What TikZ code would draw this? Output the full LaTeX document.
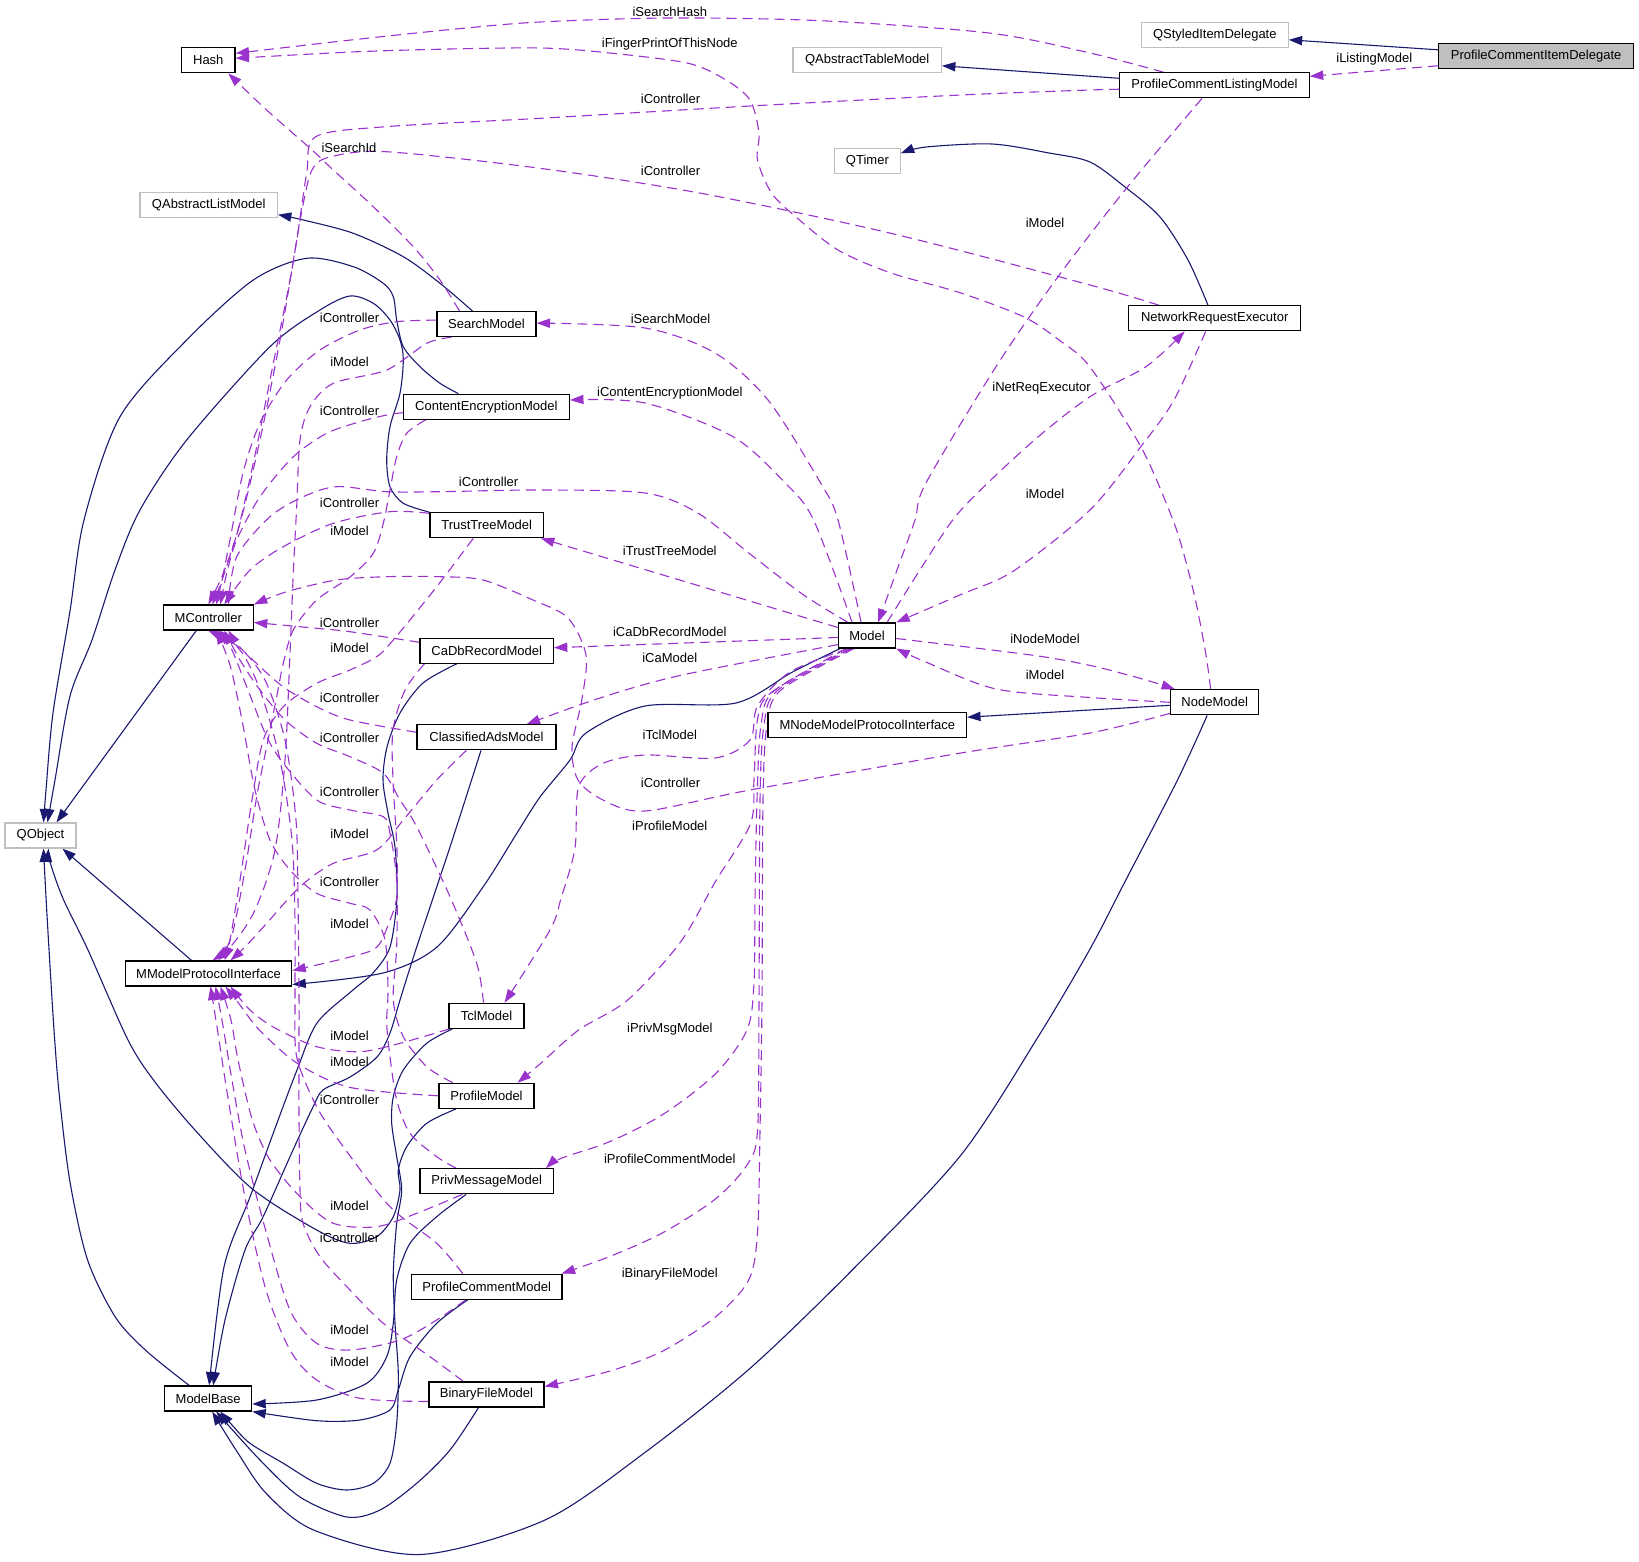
\documentclass[tikz,border=0pt]{standalone}
\usepackage{fontspec}
\usetikzlibrary{arrows.meta,calc}
\newfontfamily\arialf{Liberation Sans}
\definecolor{navyc}{HTML}{191970}
\definecolor{orchidc}{HTML}{9A32CD}
\definecolor{greyc}{HTML}{BFBFBF}
\pgfdeclarelayer{bg}
\pgfsetlayers{bg,main}
\tikzset{
  box/.style={draw=black, line width=0.6pt, fill=white, minimum height=12.5pt, inner sep=0pt, font=\arialf\fontsize{6.5pt}{7.8pt}\selectfont, text=black},
  ext/.style={box, draw=greyc},
  lbl/.style={inner sep=0pt, font=\arialf\fontsize{6.5pt}{7.8pt}\selectfont, text=black},
  inh/.style={draw=navyc, line width=0.55pt, -{Triangle[length=6.7pt,width=4.6pt]}},
  dep/.style={draw=orchidc, line width=0.55pt, dash pattern=on 5pt off 3pt, -{Triangle[length=6.7pt,width=4.6pt]}},
}
\begin{document}
\begin{tikzpicture}[x=0.5pt,y=-0.5pt]
\useasboundingbox (0,0) rectangle (1639,1562);
\begin{pgfonlayer}{bg}
\fill[white] (0,0) rectangle (1639,1562);
\end{pgfonlayer}
% ---------------- nodes ----------------
\node[box,minimum width=26.75pt] (Hash) at (208.3,60.3) {Hash};
\node[ext,minimum width=73.35pt] (QSID) at (1214.8,34.8) {QStyledItemDelegate};
\node[box,fill=greyc,minimum width=97.7pt] (PCID) at (1536.1,55.8) {ProfileCommentItemDelegate};
\node[box,minimum width=94.7pt] (PCLM) at (1214.5,85.3) {ProfileCommentListingModel};
\node[ext,minimum width=74.15pt] (QATM) at (867.2,59.8) {QAbstractTableModel};
\node[ext,minimum width=32.8pt] (QTimer) at (867.4,161.3) {QTimer};
\node[box,minimum width=86.15pt] (NRE) at (1214.7,318.3) {NetworkRequestExecutor};
\node[ext,minimum width=68.65pt] (QALM) at (208.7,205.2) {QAbstractListModel};
\node[box,minimum width=49.5pt] (SM) at (486.5,324.1) {SearchModel};
\node[box,minimum width=83.05pt] (CEM) at (486.4,406.7) {ContentEncryptionModel};
\node[box,minimum width=56.65pt] (TTM) at (486.7,525.3) {TrustTreeModel};
\node[box,minimum width=45pt] (MC) at (208.3,617.5) {MController};
\node[box,minimum width=66.65pt] (CaDb) at (486.7,650.7) {CaDbRecordModel};
\node[box,minimum width=69.5pt] (CAM) at (486.5,737.3) {ClassifiedAdsModel};
\node[box,minimum width=28.6pt] (Model) at (867.1,635.5) {Model};
\node[box,minimum width=44.15pt] (NM) at (1214.7,702.3) {NodeModel};
\node[box,minimum width=99.25pt] (MNMPI) at (867.3,725.2) {MNodeModelProtocolInterface};
\node[ext,minimum width=35.5pt] (QObject) at (40.5,835.5) {QObject};
\node[box,minimum width=83.25pt] (MMPI) at (208.5,973.5) {MModelProtocolInterface};
\node[box,minimum width=37.5pt] (Tcl) at (486.5,1015.8) {TclModel};
\node[box,minimum width=47.5pt] (PM) at (486.5,1095.8) {ProfileModel};
\node[box,minimum width=66.65pt] (PMM) at (486.7,1181.3) {PrivMessageModel};
\node[box,minimum width=75.35pt] (PCM) at (486.7,1286.7) {ProfileCommentModel};
\node[box,minimum width=57.5pt] (BFM) at (486.5,1394.5) {BinaryFileModel};
\node[box,minimum width=43.5pt] (MB) at (208.2,1398.5) {ModelBase};
% ---------------- labels ----------------
\node[lbl] (l1) at (1374.3,59.3) {iListingModel};
\node[lbl] (l2) at (669.8,11.7) {iSearchHash};
\node[lbl] (l3) at (669.8,44.3) {iFingerPrintOfThisNode};
\node[lbl] (l4) at (670.5,99.3) {iController};
\node[lbl] (l5) at (670.5,170.7) {iController};
\node[lbl] (l6) at (349,148.3) {iSearchId};
\node[lbl] (l7) at (1045,222.7) {iModel};
\node[lbl] (l8) at (670.5,319.3) {iSearchModel};
\node[lbl] (l9) at (669.8,392.7) {iContentEncryptionModel};
\node[lbl] (l10) at (1041.6,388.3) {iNetReqExecutor};
\node[lbl] (l11) at (1045,494) {iModel};
\node[lbl] (l12) at (488.6,482.3) {iController};
\node[lbl] (l13) at (669.8,550.5) {iTrustTreeModel};
\node[lbl] (l14) at (669.8,632) {iCaDbRecordModel};
\node[lbl] (l15) at (669.8,658) {iCaModel};
\node[lbl] (l16) at (1045,639) {iNodeModel};
\node[lbl] (l17) at (1045,674.5) {iModel};
\node[lbl] (l18) at (669.8,734.7) {iTclModel};
\node[lbl] (l19) at (670.5,783) {iController};
\node[lbl] (l20) at (669.8,826) {iProfileModel};
\node[lbl] (l21) at (669.8,1029.6) {iPrivMsgModel};
\node[lbl] (l22) at (669.8,1159) {iProfileCommentModel};
\node[lbl] (l23) at (669.8,1274) {iBinaryFileModel};
\node[lbl] (c1) at (349.5,318.3) {iController};
\node[lbl] (m1) at (349.5,362.3) {iModel};
\node[lbl] (c2) at (349.5,410.7) {iController};
\node[lbl] (c3) at (349.5,503.3) {iController};
\node[lbl] (m2) at (349.5,531) {iModel};
\node[lbl] (c4) at (349.5,623.3) {iController};
\node[lbl] (m3) at (349.5,648.3) {iModel};
\node[lbl] (c5) at (349.5,698.3) {iController};
\node[lbl] (c6) at (349.5,738.3) {iController};
\node[lbl] (c7) at (349.5,791.7) {iController};
\node[lbl] (m4) at (349.5,834) {iModel};
\node[lbl] (c8) at (349.5,882.3) {iController};
\node[lbl] (m5) at (349.5,924) {iModel};
\node[lbl] (m6) at (349.5,1036) {iModel};
\node[lbl] (m7) at (349.5,1062) {iModel};
\node[lbl] (c9) at (349.5,1100) {iController};
\node[lbl] (m8) at (349.5,1206) {iModel};
\node[lbl] (c10) at (349.5,1238.3) {iController};
\node[lbl] (m9) at (349.5,1330) {iModel};
\node[lbl] (m10) at (349.5,1361.7) {iModel};
% ---------------- edges ----------------
\begin{pgfonlayer}{bg}
% inheritance
\draw[inh] ($(PCID.west)+(0,-6)$) -- ($(QSID.east)+(0,5)$);
\draw[inh] ($(PCLM.west)+(0,-7)$) -- ($(QATM.east)+(0,6)$);
\draw[inh] plot[smooth] coordinates {($(NRE.north)+(-6.7,0)$) (1188,260) (1160,217) (1125,187) (1090,162) (1049,153) (992,144) (926,147) ($(QTimer.east)+(0,-8)$)};
\draw[inh] plot[smooth] coordinates {($(SM.north)+(-14,0)$) (440,283.3) (403.3,256.7) (353.3,233.3) (303.3,220) ($(QALM.east)+(0,9.5)$)};
\draw[inh] plot[smooth] coordinates {($(CEM.north)+(-28,0)$) (440,383.3) (420,366.7) (403.3,346.7) (396.7,320) (393.3,296.7) (383.3,283.3) (353.3,266.7) (306.7,258.3) (253.3,280) (186.7,340) (120,416.7) (84,520) (70,611) (53,713) (46,790) ($(QObject.north)+(3,0)$)};
\draw[inh] plot[smooth] coordinates {(TTM.north west) (403.3,503.3) (390,486.7) (386.7,460) (390,426.7) (400,393.3) (403.3,360) (400,340) (390,320) (373.3,303.3) (350,296) (320,310) (270,346.7) (186.7,440) (140,510) (115,570) (92,640) (70,696) (55,780) ($(QObject.north)+(7,0)$)};
\draw[inh] ($(MC.south)+(-12,0)$) -- ($(QObject.north)+(16,0)$);
\draw[inh] ($(MMPI.north)+(-17,0)$) -- ($(QObject.south)+(22,0)$);
\draw[inh] plot[smooth] coordinates {($(MB.north)+(-19,0)$) (147,1351.5) (115.7,1317.6) (87.6,1260) (70,1182) (59.6,1098) (54,1030) (47,915) ($(QObject.south)+(3,0)$)};
\draw[inh] plot[smooth] coordinates {($(PM.south west)+(17.7,0)$) (426.7,1123.3) (406.7,1146.7) (398.3,1170) (400,1190) (393.3,1216.7) (376.7,1236.7) (350,1243.3) (316.7,1230) (252.4,1189) (196.3,1131.5) (155,1082) (128,1040) (88,950) (63,898.5) (50,862) ($(QObject.south)+(8,0)$)};
\draw[inh] plot[smooth] coordinates {($(Model.south west)+(2,0)$) (792.5,672) (736,703) (645,706) (586,733) (570,760) (540,797) (517,833) (483,887) (437,947) (383,973) ($(MMPI.east)+(0,11)$)};
\draw[inh] ($(NM.west)+(0,3)$) -- ($(MNMPI.east)+(0,-8)$);
\draw[inh] plot[smooth] coordinates {($(NM.south)+(-7.5,0)$) (1177.5,780) (1125,881.6) (1090,949) (1038,1037) (961,1155) (855.7,1266.5) (750.4,1368) (645,1452.4) (545,1520) (420.6,1554.5) (315.5,1530.8) (266.4,1493.6) (236,1450) ($(MB.south)+(4,0)$)};
\draw[inh] plot[smooth] coordinates {($(CaDb.south)+(-30,0)$) (423,683) (400,713) (387,747) (383,780) (388,813) (395,847) (397,897) (390,947) (373,973) (353,990) (317,1023) (297,1070) (277,1123) (250,1197) (224,1267) ($(MB.north)+(1,0)$)};
\draw[inh] plot[smooth] coordinates {($(CAM.south)+(-5.5,0)$) (450,847) (416.7,947) (400,1000) (390,1033) (377,1057) (350,1077) (323,1090) (313,1107) (293,1150) (263,1217) (245,1250) (225,1320) ($(MB.north)+(5,0)$)};
\draw[inh] plot[smooth] coordinates {($(Tcl.south west)+(4,0)$) (426.7,1043.3) (403.3,1070) (393.3,1096.7) (391.7,1123.3) (396.7,1156.7) (401.7,1190) (396.7,1223.3) (393.3,1273.3) (395,1323.3) (398.3,1373.3) (396.7,1423.3) (390,1463.3) (373.3,1483.3) (346.7,1490) (316.7,1483.3) (283.3,1463.3) (250,1443.3) (232,1425) ($(MB.south)+(12,0)$)};
\draw[inh] plot[smooth] coordinates {($(PMM.south west)+(46.7,0)$) (436.7,1216.7) (410,1243.3) (396.7,1280) (393.3,1323.3) (386.7,1356.7) (366.7,1383.3) (316.7,1400) ($(MB.east)+(0,5.5)$)};
\draw[inh] plot[smooth] coordinates {($(PCM.south west)+(57,0)$) (436.7,1323.3) (410,1356.7) (398.3,1390) (390,1410) (360,1420) (316.7,1420.7) (MB.south east)};
\draw[inh] plot[smooth] coordinates {($(BFM.south)+(-8,0)$) (450,1450) (416.7,1483.3) (380,1510) (347,1517) (300,1497) (260,1460) ($(MB.south)+(8,0)$)};
% usage
\draw[dep] ($(PCID.west)+(0,10)$) -- ($(PCLM.east)+(0,-9)$);
\draw[dep] plot[smooth] coordinates {($(PCLM.north)+(-51,0)$) (1090,53) (989,33) (820.6,20.7) (670,18) (540,22) (456,29) (351,40) ($(Hash.east)+(0,-7)$)};
\draw[dep] plot[smooth] coordinates {($(NM.north)+(-4,0)$) (1205.5,652) (1195,598) (1181,544) (1169,510) (1141,447) (1090,367) (1059,340) (1024,317) (961,293) (891,273) (838,250) (796,217) (771.5,193) (757.5,160) (759,133) (750,100) (726,80) (687,63) (600,52) (540,48) (450,49) (351,52) ($(Hash.east)+(0,-2)$)};
\draw[dep] plot[smooth] coordinates {($(SM.north)+(-27,0)$) (440,280) (413.3,246.7) (373.3,206.7) (333.3,170) (312,150) (266.6,110) ($(Hash.south)+(20,0)$)};
\draw[dep] plot[smooth] coordinates {($(PCLM.west)+(0,4)$) (1090,90) (961,95) (750.4,106) (540,118.3) (385.8,126.7) (315.7,136.7) (306.7,173.3) (296.7,240) (280,340) (260,440) (240,523.3) (223.3,573.3) (MC.north)};
\draw[dep] plot[smooth] coordinates {($(NRE.north west)+(31,0)$) (1090,285) (890.8,233.3) (701,193.3) (540,168.3) (385.8,151.7) (330,157) (312,170) (302,210) (290,280) (272,370) (255,455) (238,530) (222,580) ($(MC.north)+(4,0)$)};
\draw[dep] plot[smooth] coordinates {($(SM.west)+(0,-4)$) (396.7,321.7) (360,330) (320,350) (286.7,380) (260,423) (243,473) (230,540) (222,580) ($(MC.north)+(8,0)$)};
\draw[dep] plot[smooth] coordinates {($(SM.south west)+(15,0)$) (426.7,343.3) (386.7,370) (333.3,383.3) (310,406.7) (300,440) (296.7,506.7) (293.3,573) (290,653) (285,760) (275,850) (255,910) (232,945) ($(MMPI.north)+(4,0)$)};
\draw[dep] plot[smooth] coordinates {($(CEM.west)+(0,6)$) (386.7,415) (360,421.7) (326.7,433.3) (293.3,456.7) (260,496.7) (236.7,540) (226.7,573.3) ($(MC.north)+(12,0)$)};
\draw[dep] plot[smooth] coordinates {($(CEM.south west)+(23,0)$) (406.7,433.3) (396.7,456.7) (390,490) (383.3,523.3) (373.3,553.3) (350,577) (316.7,600) (293.3,630) (283.3,663.3) (276.7,696.7) (270,730) (263.3,763.3) (256.7,796.7) (245,870) (232,935) ($(MMPI.north)+(10,0)$)};
\draw[dep] plot[smooth] coordinates {($(TTM.west)+(0,-12)$) (390,511.7) (333.3,523.3) (283.3,546.7) (250,570) ($(MC.north)+(16,0)$)};
\draw[dep] plot[smooth] coordinates {($(TTM.south)+(-13.4,0)$) (436.7,586.7) (393.3,640) (376.7,656.7) (350,670) (316.7,683.3) (283.3,706.7) (263.3,740) (252,800) (240,880) (230,940) ($(MMPI.north)+(16,0)$)};
\draw[dep] plot[smooth] coordinates {($(CaDb.west)+(0,-8.4)$) (350,631.7) (316.7,628.3) ($(MC.east)+(0,5)$)};
\draw[dep] plot[smooth] coordinates {($(CaDb.south west)+(5,0)$) (405,690) (393,730) (393,780) (397,850) (396.7,897) (390,920) (377,947) (350,957) ($(MMPI.east)+(0,-3)$)};
\draw[dep] plot[smooth] coordinates {($(CAM.west)+(0,-5)$) (350,720) (316.7,706.7) (283,686.7) (255,662) (238,645) ($(MC.south)+(20,0)$)};
\draw[dep] plot[smooth] coordinates {($(CAM.south west)+(50,0)$) (436.7,780) (403.3,820) (376.7,850) (333.3,863.3) (300,886.7) (266.7,923.3) (246,946) ($(MMPI.north)+(22,0)$)};
\draw[dep] plot[smooth] coordinates {($(Tcl.north)+(-3,0)$) (476.7,963.3) (450,896.7) (416.7,826.7) (400,800) (383.3,773.3) (350,756.7) (316.7,743.3) (285,720) (260,690) (240,660) ($(MC.south)+(16,0)$)};
\draw[dep] plot[smooth] coordinates {($(PM.north west)+(14.3,0)$) (426.7,1066.7) (403.3,1036.7) (393.3,1000) (396.7,946.7) (396.7,880) (390,833.3) (383.3,816.7) (350,810) (316.7,800) (283.3,763.3) (266.7,736.7) (248,690) (232,650) ($(MC.south)+(12,0)$)};
\draw[dep] plot[smooth] coordinates {($(PMM.north west)+(36.7,0)$) (436.7,1156.7) (410,1133.3) (396.7,1100) (390,1056.7) (386.7,1023.3) (388,990) (385,940) (370,910) (350,903.3) (316.7,893.3) (290,870) (270,840) (255,790) (242,720) (230,665) ($(MC.south)+(8,0)$)};
\draw[dep] plot[smooth] coordinates {($(PCM.north west)+(52,0)$) (436.7,1243.3) (390,1206.7) (343.3,1146.7) (316.7,1106.7) (296.7,1056.7) (295,1000) (295,920) (292,840) (280,760) (260,690) (240,650) ($(MC.south)+(4,0)$)};
\draw[dep] plot[smooth] coordinates {($(BFM.north west)+(35,0)$) (430,1356.7) (383.3,1323.3) (350,1290) (320,1256.7) (303,1223.3) (300,1190) (299,1120) (299,1057) (299,990) (298,900) (296,820) (285,740) (265,680) (240,648) (MC.south)};
\draw[dep] plot[smooth] coordinates {($(Tcl.south west)+(1,0)$) (400,1043.3) (360,1051.7) (316.7,1046.7) (275,1028) (250,1010) ($(MMPI.south)+(22,0)$)};
\draw[dep] plot[smooth] coordinates {(PM.west) (350.5,1087.5) (298,1063.8) (259.4,1030) (240,1005) ($(MMPI.south)+(17,0)$)};
\draw[dep] plot[smooth] coordinates {($(PMM.south west)+(43,0)$) (416.7,1213.3) (376.7,1226.7) (333.3,1223.3) (300,1196.7) (270,1160) (252.4,1120) (238,1060) (231,1020) ($(MMPI.south)+(12,0)$)};
\draw[dep] plot[smooth] coordinates {($(PCM.south west)+(55,0)$) (436.7,1320) (400,1340) (350,1350) (316.7,1343.3) (290,1310) (266.4,1233) (245,1150) (232,1080) (222,1020) ($(MMPI.south)+(7,0)$)};
\draw[dep] plot[smooth] coordinates {($(BFM.west)+(0,7)$) (360,1398.3) (316.7,1380) (290,1350) (266,1290) (245.5,1200) (228,1098) (217.5,1030) ($(MMPI.south)+(2,0)$)};
% Model usage
\draw[dep] plot[smooth] coordinates {($(Model.north)+(-6,0)$) (838,520) (820.6,483) (768,400) (715,353) (645,328) ($(SM.east)+(0,-1)$)};
\draw[dep] plot[smooth] coordinates {($(Model.north)+(-15,0)$) (813.6,520) (785.5,483.3) (733,436.7) (645,403) ($(CEM.east)+(0,-6.7)$)};
\draw[dep] plot[smooth] coordinates {($(Model.north west)+(10,0)$) (803,594.5) (750,554) (697.8,513) (645,493) (540,490) (440,491.7) (386.7,491.7) (336.7,486.7) (303.3,496.7) (270,516.7) (236.7,556.7) ($(MC.north)+(20,0)$)};
\draw[dep] ($(Model.west)+(0,-8)$) -- ($(TTM.south east)+(-3,0)$);
\draw[dep] ($(Model.west)+(0,2)$) -- ($(CaDb.east)+(0,-3)$);
\draw[dep] plot[smooth] coordinates {($(Model.south west)+(0,-4)$) (680,675.5) (600,698) ($(CAM.north east)+(-30,0)$)};
\draw[dep] plot[smooth] coordinates {($(Model.south west)+(10,0)$) (790,672) (757.5,706) (750,740) (715.4,758) (645,755) (603,763.4) (578.6,787) (575,848) (561,898.5) (550,930) ($(Tcl.north east)+(-20,0)$)};
\draw[dep] plot[smooth] coordinates {($(Model.south west)+(8,0)$) (771.5,692.4) (757.5,719.5) (754,780) (750.4,824) (715.4,881.6) (680.3,942.4) (627.7,1000) (578.6,1030) (540,1064) ($(PM.north east)+(-17,0)$)};
\draw[dep] plot[smooth] coordinates {($(Model.south west)+(12,0)$) (775,690) (761,725) (757,800) (755,900) (754,983) (747,1030) (715.4,1073.9) (662.8,1114.5) (610,1141.5) (561,1158.4) ($(PMM.north east)+(-8,0)$)};
\draw[dep] plot[smooth] coordinates {($(Model.south west)+(14,0)$) (778,690) (764,725) (760,800) (759,1000) (757.5,1131) (747,1165) (715.4,1199) (662.8,1232.7) (610,1256.4) ($(PCM.north east)+(-1,0)$)};
\draw[dep] plot[smooth] coordinates {($(Model.south west)+(16,0)$) (781,690) (767,725) (763,800) (762,1000) (760,1131) (757.5,1232.7) (748.7,1280) (715.4,1317) (662.8,1351) (610,1371) ($(BFM.east)+(0,-8)$)};
\draw[dep] plot[smooth] coordinates {($(NM.south west)+(0,-2)$) (1090,733) (961,753) (750,790) (645,811) (603,800) (578,780) (572,747) (582,699) (586,655) (568,618) (533,600) (483,580) (440,576.7) (386.7,576.7) (336.7,580) (286.7,591.7) (MC.north east)};
\draw[dep] plot[smooth] coordinates {($(Model.east)+(0,3)$) (1031,655) (1090,665.4) (1142.5,679) ($(NM.north west)+(5,0)$)};
\draw[dep] plot[smooth] coordinates {(NM.west) (1090,697.5) (996,689) (925.8,662) (Model.south east)};
\draw[dep] plot[smooth] coordinates {($(PCLM.south)+(-12.5,0)$) (1125,190) (1055.6,280) (996,366.7) (925.8,483.3) (915,520) (897,570) ($(Model.north)+(11,0)$)};
\draw[dep] plot[smooth] coordinates {($(Model.north)+(20,0)$) (925.8,560.7) (961,510) (1031,443) (1090,396.7) (1146,366.7) ($(NRE.south)+(-30,0)$)};
\draw[dep] plot[smooth] coordinates {($(NRE.south)+(-9,0)$) (1174,400) (1140.8,446.7) (1090,510) (1013.5,571) (961,594.5) (Model.north east)};
\end{pgfonlayer}
\end{tikzpicture}
\end{document}
